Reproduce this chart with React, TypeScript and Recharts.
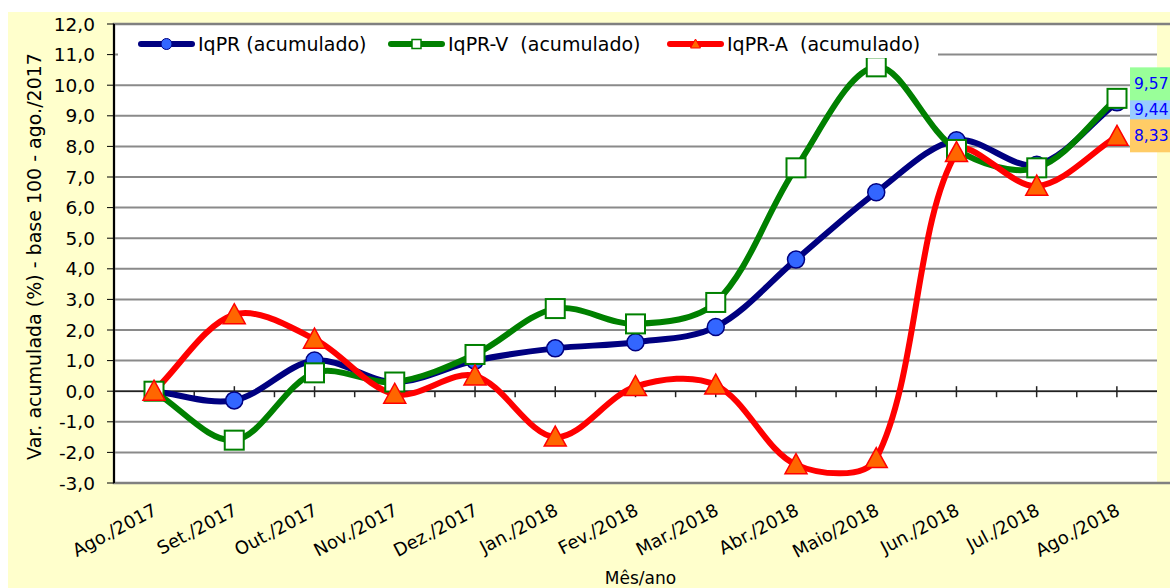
import React from "react";
import {
  LineChart,
  Line,
  XAxis,
  YAxis,
  CartesianGrid,
  Legend,
  ReferenceLine,
  ReferenceArea,
} from "recharts";

const months = [
  "Ago./2017",
  "Set./2017",
  "Out./2017",
  "Nov./2017",
  "Dez./2017",
  "Jan./2018",
  "Fev./2018",
  "Mar./2018",
  "Abr./2018",
  "Maio/2018",
  "Jun./2018",
  "Jul./2018",
  "Ago./2018",
];

const iqpr = [0.0, -0.3, 1.0, 0.3, 1.0, 1.4, 1.6, 2.1, 4.3, 6.5, 8.2, 7.4, 9.44];
const iqprV = [0.0, -1.6, 0.6, 0.3, 1.2, 2.7, 2.2, 2.9, 7.3, 10.6, 7.9, 7.3, 9.57];
const iqprA = [0.0, 2.5, 1.7, -0.1, 0.5, -1.5, 0.15, 0.2, -2.4, -2.2, 7.8, 6.7, 8.33];

const yTicks = [-3, -2, -1, 0, 1, 2, 3, 4, 5, 6, 7, 8, 9, 10, 11, 12];

const data = months.map((month, i) => ({
  month,
  iqpr: iqpr[i],
  iqprV: iqprV[i],
  iqprA: iqprA[i],
}));

const fmt = (v: number) => v.toFixed(1).replace(".", ",");
const fmt2 = (v: number) => v.toFixed(2).replace(".", ",");

// Excel-like smoothed line: bezier segments, tangents scaled by chord length
const excelSmooth = (context: any) => {
  let pts: number[][] = [];
  const dist = (a: number[], b: number[]) => Math.hypot(b[0] - a[0], b[1] - a[1]);
  return {
    areaStart() {},
    areaEnd() {},
    lineStart() {
      pts = [];
    },
    point(x: number, y: number) {
      pts.push([+x, +y]);
    },
    lineEnd() {
      if (!pts.length) return;
      context.moveTo(pts[0][0], pts[0][1]);
      for (let i = 0; i < pts.length - 1; i++) {
        const p0 = pts[i - 1] || pts[i];
        const p1 = pts[i];
        const p2 = pts[i + 1];
        const p3 = pts[i + 2] || p2;
        const d01 = dist(p0, p1);
        const d12 = dist(p1, p2);
        const d23 = dist(p2, p3);
        const s1 = d12 / (3 * (d01 + d12 || 1));
        const s2 = d12 / (3 * (d12 + d23 || 1));
        context.bezierCurveTo(
          p1[0] + (p2[0] - p0[0]) * s1,
          p1[1] + (p2[1] - p0[1]) * s1,
          p2[0] - (p3[0] - p1[0]) * s2,
          p2[1] - (p3[1] - p1[1]) * s2,
          p2[0],
          p2[1]
        );
      }
    },
  };
};

const CircleDot = (p: any) =>
  p.cx == null ? null : (
    <circle key={`c-${p.index}`} cx={p.cx} cy={p.cy} r={8.5} fill="#3366FF" stroke="#000080" strokeWidth={1.5} />
  );

const SquareDot = (p: any) =>
  p.cx == null ? null : (
    <rect key={`s-${p.index}`} x={p.cx - 9.5} y={p.cy - 9.5} width={19} height={19} fill="#fff" stroke="#008000" strokeWidth={2} />
  );

const TriangleDot = (p: any) =>
  p.cx == null ? null : (
    <polygon
      key={`t-${p.index}`}
      points={`${p.cx},${p.cy - 11} ${p.cx + 11},${p.cy + 9} ${p.cx - 11},${p.cy + 9}`}
      fill="#FF6600"
      stroke="#FF0000"
      strokeWidth={1.5}
    />
  );

// value box shown beside the last point
const endLabel = (bg: string, dy: number, h: number) => (p: any) => {
  if (p.index !== months.length - 1) return null;
  return (
    <g key={`lbl-${bg}`}>
      <rect x={p.x + 13} y={p.y + dy - h / 2} width={60} height={h} fill={bg} />
      <text x={p.x + 17} y={p.y + dy} dominantBaseline="central" fill="#0000FF" fontSize={15.5}>
        {fmt2(p.value)}
      </text>
    </g>
  );
};

// zero line with category ticks (major on categories, minor between)
const ZeroAxis = (p: any) => {
  const { x1, x2, y1 } = p;
  const n = months.length * 2;
  const step = (x2 - x1) / n;
  const ticks = [];
  for (let k = 1; k < n; k++) {
    const x = x1 + k * step;
    const major = k % 2 === 1;
    ticks.push(
      <line key={k} x1={x} x2={x} y1={major ? y1 - 5 : y1} y2={y1 + 6} stroke="#222" strokeWidth={1.5} />
    );
  }
  return (
    <g>
      <line x1={x1} x2={x2} y1={y1} y2={y1} stroke="#222" strokeWidth={1.5} />
      {ticks}
    </g>
  );
};

const XTick = (p: any) => (
  <g transform={`translate(${p.x + 4},${p.y + 31}) rotate(-28)`}>
    <text x={0} y={0} textAnchor="end" fill="#000" fontSize={18}>
      {p.payload.value}
    </text>
  </g>
);

const legendItems = [
  { name: "IqPR (acumulado)", color: "#000080", width: 250, marker: "circle" },
  { name: "IqPR-V  (acumulado)", color: "#008000", width: 279, marker: "square" },
  { name: "IqPR-A  (acumulado)", color: "#FF0000", width: 260, marker: "triangle" },
];

const renderLegend = () => (
  <div
    style={{
      display: "flex",
      alignItems: "center",
      height: 28,
      background: "#fff",
      paddingLeft: 20,
      fontSize: 19,
      whiteSpace: "pre",
      color: "#000",
    }}
  >
    {legendItems.map((s) => (
      <div key={s.name} style={{ display: "flex", alignItems: "center", width: s.width }}>
        <svg width={57} height={16}>
          <line x1={3} x2={54} y1={8} y2={8} stroke={s.color} strokeWidth={6} strokeLinecap="round" />
          {s.marker === "circle" && <circle cx={28.5} cy={8} r={5.5} fill="#3366FF" stroke="#000080" />}
          {s.marker === "square" && <rect x={24} y={3.5} width={9} height={9} fill="#fff" stroke="#008000" strokeWidth={1.5} />}
          {s.marker === "triangle" && <polygon points="28.5,3 33.5,12 23.5,12" fill="#FF6600" stroke="#FF0000" />}
        </svg>
        <span style={{ marginLeft: 3 }}>{s.name}</span>
      </div>
    ))}
  </div>
);

export default function App() {
  return (
    <div
      style={{
        position: "absolute",
        left: 8,
        top: 8,
        paddingTop: 4,
        width: 1162,
        height: 576,
        overflow: "hidden",
        fontFamily: "'DejaVu Sans', sans-serif",
      }}
    >
      <LineChart
        width={1162}
        height={576}
        data={data}
        margin={{ top: 12, right: 13, bottom: 0, left: 0 }}
        style={{ background: "#FFFFCC" }}
      >
        <CartesianGrid vertical={false} stroke="#8a8a8a" strokeWidth={2} fill="#fff" />
        <XAxis
          dataKey="month"
          interval={0}
          height={105}
          axisLine={false}
          tickLine={false}
          tickSize={0}
          tickMargin={0}
          padding={{ left: 40, right: 40 }}
          tick={<XTick />}
          label={(props: any) => {
            const vb = props.viewBox;
            return (
              <text x={vb.x + vb.width / 2 + 5} y={vb.y + 101} textAnchor="middle" fill="#000" fontSize={17}>
                Mês/ano
              </text>
            );
          }}
        />
        <XAxis xAxisId="full" type="number" domain={[0, months.length * 2]} hide />
        <YAxis
          domain={[-3, 12]}
          ticks={yTicks}
          interval={0}
          width={106}
          tickFormatter={fmt}
          tick={{ fill: "#000", fontSize: 18.5 }}
          tickLine={{ stroke: "#000" }}
          tickSize={7}
          tickMargin={12}
          axisLine={{ stroke: "#000", strokeWidth: 2 }}
          allowDataOverflow
          label={(props: any) => {
            const vb = props.viewBox;
            const cx = 26;
            const cy = vb.y + vb.height / 2 + 3;
            return (
              <text
                x={cx}
                y={cy}
                transform={`rotate(-90, ${cx}, ${cy})`}
                textAnchor="middle"
                dominantBaseline="central"
                fill="#000"
                fontSize={19}
              >
                Var. acumulada (%) - base 100 - ago./2017
              </text>
            );
          }}
        />
        <ReferenceArea
          xAxisId="full"
          x1={0}
          x2={months.length * 2}
          y1={-3}
          y2={12}
          fill="none"
          stroke="#808080"
          strokeWidth={2.5}
          ifOverflow="visible"
        />
        <ReferenceLine xAxisId="full" y={0} shape={ZeroAxis} ifOverflow="visible" />
        <Legend
          layout="vertical"
          verticalAlign="middle"
          align="center"
          content={renderLegend}
          wrapperStyle={{ left: 110, top: 18, width: 820, height: 28 }}
        />
        <Line
          dataKey="iqpr"
          name="IqPR (acumulado)"
          type={excelSmooth as any}
          stroke="#000080"
          strokeWidth={6}
          dot={CircleDot}
          activeDot={false}
          isAnimationActive={false}
          label={endLabel("#99CCFF", 8, 34)}
        />
        <Line
          dataKey="iqprV"
          name="IqPR-V  (acumulado)"
          type={excelSmooth as any}
          stroke="#008000"
          strokeWidth={6}
          dot={SquareDot}
          activeDot={false}
          isAnimationActive={false}
          label={endLabel("#99FF99", -14.5, 33)}
        />
        <Line
          dataKey="iqprA"
          name="IqPR-A  (acumulado)"
          type={excelSmooth as any}
          stroke="#FF0000"
          strokeWidth={6}
          dot={TriangleDot}
          activeDot={false}
          isAnimationActive={false}
          label={endLabel("#FFCC66", -0.5, 33)}
        />
      </LineChart>
    </div>
  );
}
